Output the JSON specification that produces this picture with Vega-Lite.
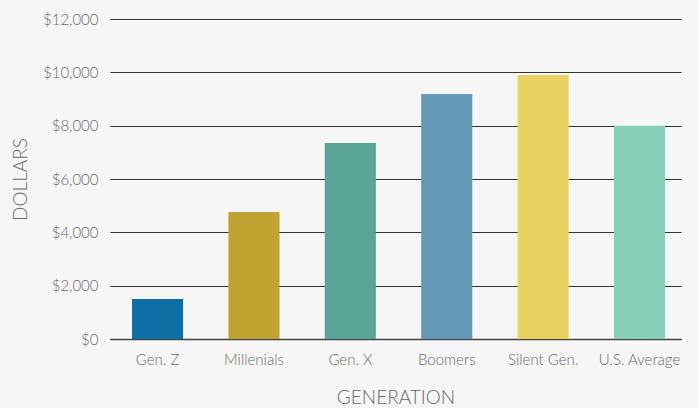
{
  "$schema": "https://vega.github.io/schema/vega-lite/v6.json",
  "width": 571,
  "height": 320,
  "autosize": "none",
  "padding": {"left": 110, "top": 19, "right": 17, "bottom": 69},
  "background": "#f6f6f6",
  "data": {"values": [
    {"generation": "Gen. Z", "dollars": 1500},
    {"generation": "Millenials", "dollars": 4760},
    {"generation": "Gen. X", "dollars": 7350},
    {"generation": "Boomers", "dollars": 9190},
    {"generation": "Silent Gen.", "dollars": 9900},
    {"generation": "U.S. Average", "dollars": 8000}
  ]},
  "config": {
    "view": {"stroke": null},
    "font": "Lato",
    "axis": {"labelFont": "Lato", "titleFont": "Lato", "labelColor": "#6a6a6a", "titleColor": "#6a6a6a", "titleFontWeight": 300, "labelFontWeight": 300, "labelFontSize": 15, "titleFontSize": 19}
  },
  "mark": {"type": "bar"},
  "encoding": {
    "x": {
      "field": "generation", "type": "nominal", "sort": null,
      "title": "GENERATION",
      "scale": {"paddingInner": 0.47, "paddingOuter": 0.197, "align": 0.58},
      "axis": {"labelAngle": 0, "ticks": false, "domainColor": "#444444", "domainWidth": 1.5, "labelPadding": 13, "titlePadding": 21}
    },
    "y": {
      "field": "dollars", "type": "quantitative",
      "title": "DOLLARS",
      "scale": {"domain": [0, 12000]},
      "axis": {"values": [0, 2000, 4000, 6000, 8000, 10000, 12000], "format": "$,.0f", "domain": false, "ticks": false, "gridColor": "#333333", "gridWidth": 1.2, "gridOpacity": 1, "labelPadding": 12, "titlePadding": 12}
    },
    "color": {
      "field": "generation", "type": "nominal", "sort": null, "legend": null,
      "scale": {
        "domain": ["Gen. Z", "Millenials", "Gen. X", "Boomers", "Silent Gen.", "U.S. Average"],
        "range": ["#0e6fa5", "#c1a332", "#5ba596", "#6599b8", "#e8d362", "#86cfb8"]
      }
    }
  }
}
